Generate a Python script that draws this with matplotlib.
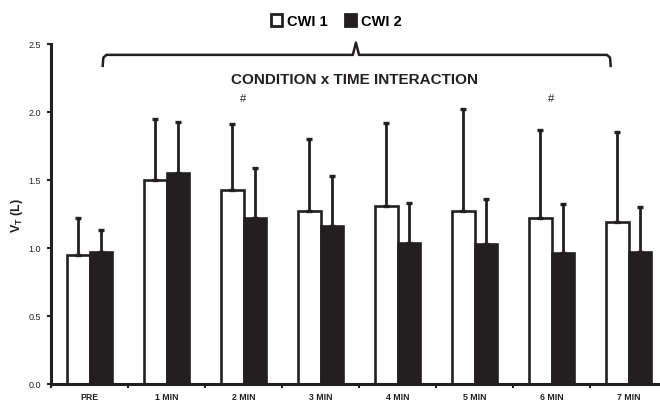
import matplotlib
matplotlib.use("Agg")
import matplotlib.pyplot as plt
import numpy as np
from matplotlib.patches import Patch

plt.rcParams['font.family'] = ['Liberation Sans', 'DejaVu Sans']
plt.rcParams['mathtext.fontset'] = 'custom'
plt.rcParams['mathtext.rm'] = 'Liberation Sans:bold'
plt.rcParams['mathtext.bf'] = 'Liberation Sans:bold'
plt.rcParams['mathtext.it'] = 'Liberation Sans:bold'

categories = ["PRE", "1 MIN", "2 MIN", "3 MIN", "4 MIN", "5 MIN", "6 MIN", "7 MIN"]
cwi1_mean = [0.95, 1.50, 1.43, 1.27, 1.31, 1.27, 1.22, 1.19]
cwi1_sd = [0.27, 0.45, 0.48, 0.53, 0.61, 0.75, 0.65, 0.66]
cwi2_mean = [0.97, 1.55, 1.22, 1.16, 1.04, 1.03, 0.96, 0.97]
cwi2_sd = [0.16, 0.38, 0.37, 0.37, 0.29, 0.33, 0.36, 0.33]
sig_labels = ["", "", "#", "", "", "", "#", ""]
yticks = [0.0, 0.5, 1.0, 1.5, 2.0, 2.5]

fig = plt.figure(figsize=(6.6, 4.02), dpi=100)
ax = fig.add_axes([51/660, 17/402, 616/660, 340/402])

x = np.arange(len(categories))
w = 0.29
ekw = dict(ecolor='#231f20', elinewidth=2.0, capsize=2.2, capthick=2.4)
ax.bar(x - w/2, cwi1_mean, w, color='white', edgecolor='#231f20', linewidth=1.9,
       yerr=[np.zeros(len(x)), cwi1_sd], error_kw=ekw, zorder=2)
ax.bar(x + w/2, cwi2_mean, w, color='#231f20', edgecolor='#231f20', linewidth=1.9,
       yerr=[np.zeros(len(x)), cwi2_sd], error_kw=ekw, zorder=2)

ax.set_xlim(-0.5, len(categories) - 0.5)
ax.set_ylim(0, 2.5)
ax.set_yticks(yticks)
ax.set_yticklabels([f"{v:.1f}" for v in yticks], fontsize=6.5, color='#231f20')
ax.set_xticks(x)
ax.set_xticklabels(categories, fontsize=6.3, fontweight='bold', color='#231f20')
ax.tick_params(axis='x', which='major', length=0, pad=6)
ax.set_xticks(np.arange(-0.5, len(categories), 1.0), minor=True)
ax.tick_params(axis='x', which='minor', length=3, width=1.5, direction='out', color='#231f20')
ax.tick_params(axis='y', length=3, width=1.5, direction='out', color='#231f20', pad=4)
for s in ['top', 'right']:
    ax.spines[s].set_visible(False)
for s in ['left', 'bottom']:
    ax.spines[s].set_linewidth(2.2)
    ax.spines[s].set_color('#231f20')

ax.set_ylabel(r'$\mathrm{V_T}$ (L)', fontsize=9, fontweight='bold', color='#231f20', labelpad=3)

# significance markers
for i, lab in enumerate(sig_labels):
    if lab:
        ax.text(x[i], 2.10, lab, ha='center', va='center', fontsize=8, color='#231f20')

# bracket
bl, br, bm = 0.17, 6.77, 3.46
ytop, yend, ypeak = 2.42, 2.33, 2.51
bx = [bl, bl + 0.01, bl + 0.05, bm - 0.04, bm, bm + 0.04, br - 0.05, br - 0.01, br]
by = [yend, ytop - 0.02, ytop, ytop, ypeak, ytop, ytop, ytop - 0.02, yend]
ax.plot(bx, by, color='#231f20', lw=1.8, clip_on=False, solid_capstyle='butt', solid_joinstyle='round')
ax.text(bm - 0.02, 2.24, "CONDITION x TIME INTERACTION", ha='center', va='center',
        fontsize=11, fontweight='bold', color='#231f20')

handles = [Patch(facecolor='white', edgecolor='#231f20', linewidth=2.0, label='CWI 1'),
           Patch(facecolor='#231f20', edgecolor='#231f20', linewidth=2.0, label='CWI 2')]
fig.legend(handles=handles, loc='center', bbox_to_anchor=(336/660, 1 - 22/402), ncol=2,
           frameon=False, prop={'weight': 'bold', 'size': 10.5}, handlelength=0.8,
           handleheight=0.9, handletextpad=0.3, columnspacing=1.2)

fig.savefig('out.png', dpi=100)
